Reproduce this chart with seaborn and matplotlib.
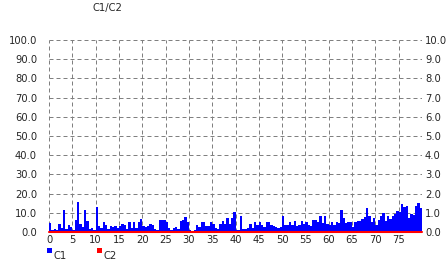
import numpy as np
import pandas as pd
import matplotlib
matplotlib.use("Agg")
import matplotlib.pyplot as plt
from matplotlib.patches import Rectangle
import seaborn as sns

# ---- data ----
title = "C1/C2"
series_names = ["C1", "C2"]
# C1 values, one per half-unit bin from 0 to 80 (left axis, 0..100)
c1 = [4.7, 1.0, 1.5, 1.2, 4.2, 2.0, 11.5, 1.5, 3.8, 2.5,
      1.0, 6.0, 15.5, 4.0, 2.5, 11.3, 5.5, 1.5, 2.0, 1.0,
      12.8, 3.0, 2.0, 5.0, 3.5, 1.5, 3.0, 2.5, 3.0, 2.0,
      3.0, 4.0, 3.5, 1.5, 5.0, 2.0, 5.0, 2.0, 5.0, 7.0,
      3.0, 2.5, 3.0, 4.0, 3.8, 1.5, 1.0, 6.0, 6.0, 6.0,
      5.0, 2.0, 1.0, 2.0, 2.5, 1.5, 5.5, 6.5, 8.0, 5.0,
      1.0, 0.5, 1.0, 3.5, 2.5, 5.0, 5.0, 3.0, 3.0, 5.0,
      4.0, 2.0, 1.5, 4.0, 5.5, 4.0, 7.3, 4.0, 7.5, 10.4,
      1.0, 1.0, 8.2, 1.5, 1.5, 2.0, 4.0, 2.0, 5.0, 3.8,
      5.0, 3.8, 2.5, 5.0, 5.0, 3.5, 3.0, 2.5, 2.0, 2.5,
      8.2, 3.8, 3.5, 5.0, 3.8, 5.5, 3.0, 3.8, 5.5, 4.0,
      5.0, 3.5, 3.0, 6.0, 6.0, 5.0, 8.2, 4.5, 8.2, 4.0,
      3.5, 5.0, 3.8, 5.0, 4.5, 11.5, 7.3, 4.5, 5.0, 5.0,
      2.5, 5.0, 5.8, 5.8, 7.0, 8.0, 12.5, 8.2, 5.0, 7.3,
      3.8, 6.0, 8.2, 10.0, 5.5, 8.2, 7.0, 8.5, 9.4, 11.0,
      10.5, 14.6, 12.8, 13.4, 7.5, 9.5, 9.0, 13.4, 15.0, 12.5]
# C2 values (right axis, 0..10), sampled along x
c2_x = [0, 10, 20, 30, 40, 50, 60, 70, 80]
c2 = [0.0, 0.0, 0.0, 0.0, 0.0, 0.0, 0.0, 0.0, 0.0]
x_ticks = [0, 5, 10, 15, 20, 25, 30, 35, 40, 45, 50, 55, 60, 65, 70, 75]
left_ticks = [0, 10, 20, 30, 40, 50, 60, 70, 80, 90, 100]
right_ticks = [0, 1, 2, 3, 4, 5, 6, 7, 8, 9, 10]

# ---- style ----
sns.set_style("white")
plt.rcParams["font.family"] = ["DejaVu Sans"]
FS = 7.2
BLUE = "#0000ff"
RED = "#ff0000"

fig = plt.figure(figsize=(4.48, 2.63), dpi=100)
ax = fig.add_axes([49 / 448, 1 - 232 / 263, (422 - 49) / 448, (232 - 40) / 263])

bin_w = 80 / len(c1)
df = pd.DataFrame({"x": np.arange(len(c1)) * bin_w + bin_w / 2, "C1": c1})
sns.histplot(data=df, x="x", weights="C1", bins=len(c1), binrange=(0, 80),
             ax=ax, color=BLUE, alpha=1, linewidth=0, element="bars", zorder=2)

ax.set_xlim(0, 80)
ax.set_ylim(0, 100)
ax.set_xticks(x_ticks)
ax.set_xticklabels([str(t) for t in x_ticks], fontsize=FS)
ax.set_yticks(left_ticks)
ax.set_yticklabels([f"{t:.1f}" for t in left_ticks], fontsize=FS)
ax.set_xlabel("")
ax.set_ylabel("")
ax.set_axisbelow(True)
ax.grid(True, color="#808080", linestyle=(0, (4, 3)), linewidth=0.72)
ax.tick_params(axis="both", length=0)
ax.tick_params(axis="y", pad=8.6)
ax.tick_params(axis="x", pad=2.5)
for s in ax.spines.values():
    s.set_visible(False)

ax2 = ax.twinx()
dfc2 = pd.DataFrame({"x": c2_x, "C2": c2})
sns.lineplot(data=dfc2, x="x", y="C2", ax=ax2, color=RED, linewidth=1.5,
             clip_on=False, zorder=5)
ax2.set_ylim(0, 10)
ax2.set_yticks(right_ticks)
ax2.set_yticklabels([f"{t:.1f}" for t in right_ticks], fontsize=FS)
ax2.set_ylabel("")
ax2.set_xlabel("")
ax2.tick_params(axis="y", length=0, pad=2.2)
for s in ax2.spines.values():
    s.set_visible(False)
ax2.patch.set_visible(False)

fig.text(107 / 448, 1 - 8 / 263, title, ha="center", va="center", fontsize=FS)

# legend
for (px, col, name) in [(47, BLUE, series_names[0]), (97, RED, series_names[1])]:
    fig.patches.append(Rectangle((px / 448, 1 - 253 / 263), 5 / 448, 5 / 263,
                                 transform=fig.transFigure, facecolor=col,
                                 edgecolor="none"))
    fig.text((px + 6) / 448, 1 - 256 / 263, name, ha="left", va="center",
             fontsize=FS)

fig.savefig("out.png", dpi=100)
